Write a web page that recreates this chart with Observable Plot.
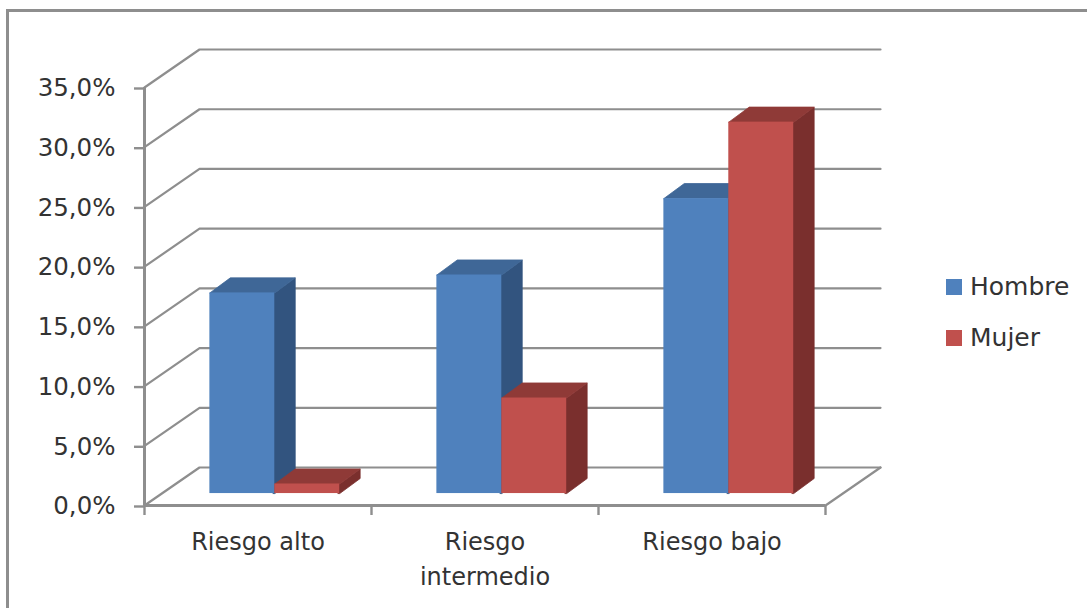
<!DOCTYPE html>
<html>
<head>
<meta charset="utf-8">
<script src="https://cdn.jsdelivr.net/npm/d3@7"></script>
<script src="https://cdn.jsdelivr.net/npm/@observablehq/plot@0.6"></script>
<style>
  html, body { margin: 0; padding: 0; background: #fff; }
  #chart { position: relative; width: 1087px; height: 608px; overflow: hidden; font-family: "DejaVu Sans", sans-serif; }
  #chart svg { display: block; position: absolute; left: 0; top: 0; background: transparent; }
  #frame { position: absolute; left: 6px; top: 9px; width: 1200px; height: 800px; border: 3px solid #8e8e8e; box-sizing: border-box; }
  .key { position: absolute; left: 946px; display: flex; align-items: center; font-size: 25px; color: #333; line-height: 28px; }
  .key i { display: block; width: 16px; height: 16px; margin-right: 8px; }
</style>
</head>
<body>
<div id="chart"><div id="frame"></div></div>
<script>
// Percentage of each risk group, by sex
const categories = ["Riesgo alto", "Riesgo\nintermedio", "Riesgo bajo"];
const hombre = [16.8, 18.3, 24.7];
const mujer = [0.8, 8.0, 31.1];
const yTicks = [0, 5, 10, 15, 20, 25, 30, 35];

const seriesNames = ["Hombre", "Mujer"];
const seriesValues = [hombre, mujer];
const frontColors = ["#4f81bd", "#c0504d"];
const topColors = ["#3f6797", "#8f3a37"];
const sideColors = ["#32547f", "#7a2f2d"];

// Oblique projection, in data units: wall depth, bar depth, bar placement on the floor
const wallDx = 0.2423, wallDy = 3.18;
const barDx = 0.09, barDy = 1.26;
const floorLift = 1.0, barInset = 0.288, barWidth = 0.286;
// Side faces tuck slightly behind the front face so no seam shows between them
const tuck = 0.008;

const xMax = categories.length;
const wall = [];
yTicks.forEach((v, i) => {
  wall.push({id: i, x: 0, y: v}, {id: i, x: wallDx, y: v + wallDy}, {id: i, x: xMax + wallDx, y: v + wallDy});
});
// Floor: right edge, joining the back wall's base to the front axis
wall.push({id: "floor", x: xMax + wallDx, y: wallDy}, {id: "floor", x: xMax, y: 0});

const fronts = [];
const faces = [];
seriesValues.forEach((values, s) => {
  values.forEach((v, c) => {
    const x1 = c + barInset + s * barWidth;
    const x2 = x1 + barWidth;
    const y1 = floorLift;
    const y2 = floorLift + v;
    fronts.push({x1, x2, y1, y2, fill: frontColors[s]});
    const side = `side-${s}-${c}`;
    const top = `top-${s}-${c}`;
    [[x2 - tuck, y1], [x2, y1], [x2 + barDx, y1 + barDy], [x2 + barDx, y2 + barDy], [x2, y2], [x2 - tuck, y2]]
      .forEach(([x, y]) => faces.push({id: side, x, y, fill: sideColors[s]}));
    [[x1, y2], [x1 + barDx, y2 + barDy], [x2 + barDx, y2 + barDy], [x2, y2]]
      .forEach(([x, y]) => faces.push({id: top, x, y, fill: topColors[s]}));
  });
});

const grey = "#8e8e8e";
const textColor = "#333";

const plot = Plot.plot({
  width: 1087,
  height: 608,
  marginLeft: 144,
  marginRight: 262,
  marginTop: 87,
  marginBottom: 103,
  style: {background: "transparent", fontFamily: "'DejaVu Sans', sans-serif", color: textColor},
  x: {domain: [0, xMax], range: [144, 825]},
  y: {domain: [0, 35], range: [505, 87]},
  color: {type: "identity"},
  marks: [
    Plot.line(wall, {x: "x", y: "y", z: "id", stroke: grey, strokeWidth: 2.2, curve: "linear"}),
    Plot.ruleX([0], {y1: 0, y2: 35, stroke: grey, strokeWidth: 3}),
    Plot.ruleY([0], {x1: 0, x2: xMax, stroke: grey, strokeWidth: 3}),
    Plot.line(faces, {x: "x", y: "y", z: "id", fill: "fill", stroke: "fill", strokeWidth: 0.8, strokeLinejoin: "miter"}),
    Plot.rect(fronts, {x1: "x1", x2: "x2", y1: "y1", y2: "y2", fill: "fill"}),
    Plot.axisY({
      ticks: yTicks,
      tickSize: 10,
      tickPadding: 19,
      tickFormat: (d) => d.toFixed(1).replace(".", ",") + "%",
      label: null,
      stroke: grey,
      strokeWidth: 2.4,
      fontSize: 24.5,
      dy: 1
    }),
    Plot.axisX({
      ticks: d3.range(xMax + 1),
      tickSize: 10,
      tickFormat: () => "",
      label: null,
      stroke: grey,
      strokeWidth: 2.4
    }),
    Plot.axisX({
      ticks: categories.map((_, i) => i + 0.5),
      tickSize: 0,
      tickPadding: 20,
      tickFormat: (d) => categories[Math.floor(d)],
      label: null,
      fontSize: 24,
      lineHeight: 1.45
    })
  ]
});

const chart = document.getElementById("chart");
chart.appendChild(plot);

// Legend to the right of the plot
seriesNames.forEach((name, s) => {
  const row = document.createElement("div");
  row.className = "key";
  row.style.top = 273 + s * 51 + "px";
  const swatch = document.createElement("i");
  swatch.style.background = frontColors[s];
  row.appendChild(swatch);
  row.appendChild(document.createTextNode(name));
  chart.appendChild(row);
});
</script>
</body>
</html>
